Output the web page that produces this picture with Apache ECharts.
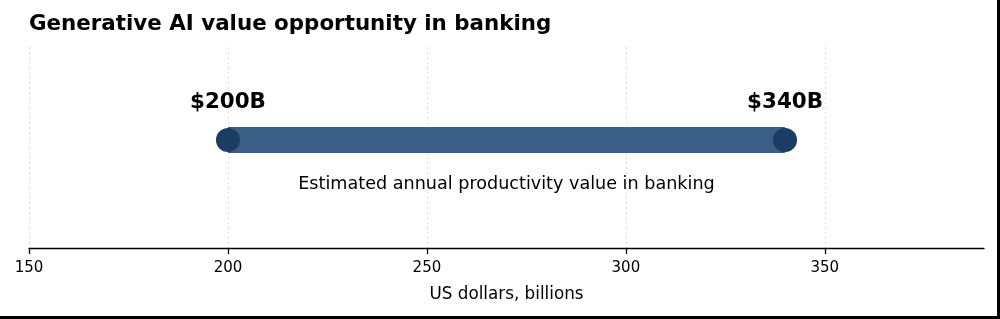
<!DOCTYPE html>
<html><head><meta charset="utf-8">
<script src="https://cdn.jsdelivr.net/npm/echarts@6/dist/echarts.min.js"></script>
<style>
html,body{margin:0;padding:0;background:#fff;}
#c{width:997px;height:316px;border-right:3px solid #000;border-bottom:3px solid #000;}
</style></head><body>
<div id="c"></div>
<script>
var title = 'Generative AI value opportunity in banking';
var xTicks = [150, 200, 250, 300, 350];
var xMin = 150, xMax = 390;
var rangeLow = 200;
var rangeHigh = 340;
var endLabels = ['$200B', '$340B'];
var rangeCaption = 'Estimated annual productivity value in banking';
var xAxisName = 'US dollars, billions';

var FONT = '"DejaVu Sans", sans-serif';
var BAR_Y = 0.537, LABEL_Y = 0.722, CAPTION_Y = 0.318;
var GRID_LEFT = 29, GRID_RIGHT = 13, GRID_TOP = 47, GRID_BOTTOM = 68;
var TICK_LEN = 6;
var el = document.getElementById('c');
var chart = echarts.init(el);
var plotW = el.clientWidth - GRID_LEFT - GRID_RIGHT;
var tickMax = xTicks[xTicks.length - 1];
var tickGridW = plotW * (tickMax - xMin) / (xMax - xMin);

chart.setOption({
  animation: false,
  backgroundColor: '#fff',
  textStyle: {fontFamily: FONT},
  title: {text: title, left: 24, top: 9, textStyle: {fontFamily: FONT, fontWeight: 'bold', fontSize: 21.4, color: '#000'}},
  grid: [
    {left: GRID_LEFT, right: GRID_RIGHT, top: GRID_TOP, bottom: GRID_BOTTOM},
    {left: GRID_LEFT, width: tickGridW, top: GRID_TOP, bottom: GRID_BOTTOM}
  ],
  xAxis: [{
    gridIndex: 0, type: 'value', min: xMin, max: xMax,
    name: xAxisName, nameLocation: 'middle', nameGap: 38,
    nameTextStyle: {fontFamily: FONT, fontSize: 16.8, color: '#000'},
    axisLine: {lineStyle: {color: '#000', width: 1.3}},
    axisTick: {show: false}, axisLabel: {show: false}, splitLine: {show: false}
  }, {
    gridIndex: 1, type: 'value', min: xTicks[0], max: tickMax, interval: xTicks[1] - xTicks[0],
    axisLine: {show: false},
    axisTick: {show: false},
    axisLabel: {fontFamily: FONT, fontSize: 15, color: '#000', margin: 13},
    splitLine: {show: true, lineStyle: {color: '#dcdcdc', type: [2, 3], width: 1}}
  }],
  yAxis: [
    {gridIndex: 0, type: 'value', min: 0, max: 1, show: false, splitLine: {show: false}},
    {gridIndex: 1, type: 'value', min: 0, max: 1, show: false, splitLine: {show: false}}
  ],
  series: [
    {type: 'line', data: [[rangeLow, BAR_Y], [rangeHigh, BAR_Y]], symbol: 'none',
     lineStyle: {color: '#3a5f87', width: 26, cap: 'butt'}, z: 2},
    {type: 'scatter', data: [[rangeLow, BAR_Y], [rangeHigh, BAR_Y]], symbolSize: 24,
     itemStyle: {color: '#1b3d63', opacity: 1}, z: 3},
    {type: 'scatter', symbolSize: 1, z: 4, itemStyle: {opacity: 1, color: 'rgba(0,0,0,0)'},
     data: [
       {value: [rangeLow, LABEL_Y], label: {formatter: endLabels[0]}},
       {value: [rangeHigh, LABEL_Y], label: {formatter: endLabels[1]}}
     ],
     label: {show: true, position: 'inside', fontFamily: FONT, fontWeight: 'bold', fontSize: 21.4, color: '#000'}},
    {type: 'scatter', symbolSize: 1, z: 4, itemStyle: {opacity: 1, color: 'rgba(0,0,0,0)'},
     data: [{value: [(rangeLow + rangeHigh) / 2, CAPTION_Y]}],
     label: {show: true, position: 'inside', formatter: rangeCaption, fontFamily: FONT, fontSize: 17.6, color: '#000'}},
    {type: 'custom', xAxisIndex: 0, yAxisIndex: 0, clip: false, silent: true, z: 10,
     data: xTicks.map(function(v){ return [v, 0]; }),
     renderItem: function(params, api) {
       var p = api.coord([api.value(0), api.value(1)]);
       var x = Math.round(p[0]) + 0.5;
       return {type: 'line', shape: {x1: x, y1: p[1], x2: x, y2: p[1] + TICK_LEN},
               style: {stroke: '#000', lineWidth: 1.3}};
     }}
  ]
});
</script></body></html>
